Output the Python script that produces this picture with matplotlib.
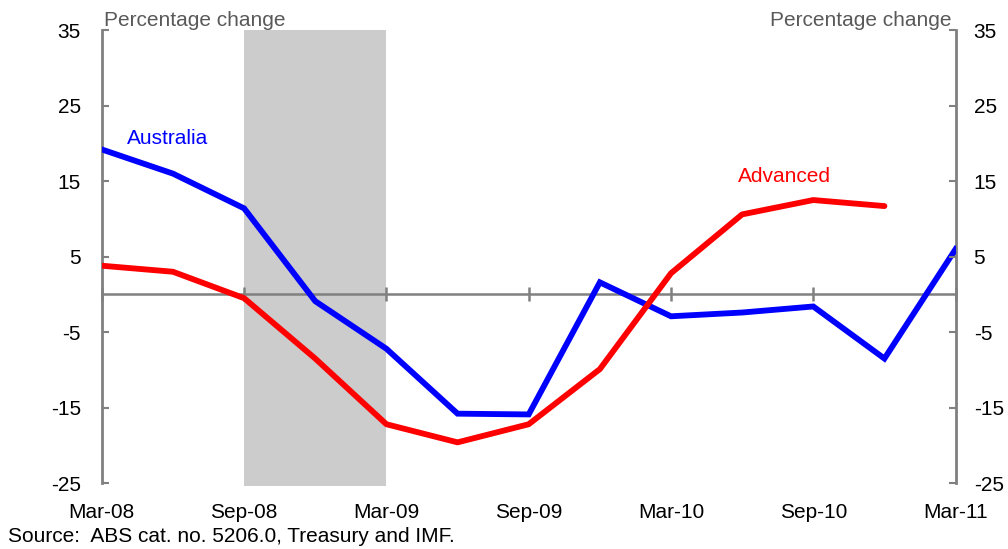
import numpy as np
from matplotlib import pyplot as plt

plt.rcParams['font.family'] = ['Liberation Sans', 'DejaVu Sans']
plt.rcParams['axes.unicode_minus'] = False

# quarterly, Mar-08 .. Mar-11
quarters = ['Mar-08', 'Jun-08', 'Sep-08', 'Dec-08', 'Mar-09', 'Jun-09', 'Sep-09',
            'Dec-09', 'Mar-10', 'Jun-10', 'Sep-10', 'Dec-10', 'Mar-11']
australia = [19.2, 16.0, 11.4, -0.9, -7.2, -15.8, -15.9, 1.6, -2.9, -2.4, -1.6, -8.5, 6.0]
advanced = [3.8, 3.0, -0.5, -8.5, -17.2, -19.6, -17.2, -9.9, 2.8, 10.6, 12.5, 11.7]
shade_start, shade_end = 'Sep-08', 'Mar-09'
y_ticks = [35, 25, 15, 5, -5, -15, -25]

axis_grey = '#808080'
fs = 15
x = np.arange(len(quarters))

fig = plt.figure(figsize=(10.08, 5.49), dpi=100)
ax = fig.add_axes([0.101, 0.12, 0.847, 0.825])

ax.axvspan(quarters.index(shade_start), quarters.index(shade_end),
           ymin=-0.006, ymax=1, color='#cccccc', lw=0, zorder=0, clip_on=False)

ax.plot(x, australia, color='#0000ff', lw=4.2, solid_joinstyle='miter', zorder=3)
ax.plot(x[:len(advanced)], advanced, color='#ff0000', lw=4.2, solid_capstyle='round', zorder=3)

ax.set_xlim(0, len(quarters) - 1)
ax.set_ylim(-25, 35)

# spines
ax.spines['top'].set_visible(False)
for side in ['left', 'right']:
    ax.spines[side].set_color(axis_grey)
    ax.spines[side].set_linewidth(2)
ax.spines['bottom'].set_position(('data', 0))
ax.spines['bottom'].set_color(axis_grey)
ax.spines['bottom'].set_linewidth(1.8)
ax.spines['bottom'].set_zorder(2)

ax.set_xticks(x[::2])
ax.tick_params(axis='x', direction='inout', length=10, width=1.8, color=axis_grey,
               labelbottom=False)

ax.set_yticks(y_ticks)
ax.tick_params(axis='y', direction='in', length=5, width=1.5, color=axis_grey,
               labelsize=fs, pad=15)

# right axis labels
ax2 = ax.twinx()
ax2.set_ylim(ax.get_ylim())
ax2.set_yticks(y_ticks)
ax2.tick_params(axis='y', direction='in', length=5, width=1.5, color=axis_grey,
                labelsize=fs, pad=13)
for side in ['left', 'right', 'top', 'bottom']:
    ax2.spines[side].set_visible(False)

# bottom labels
sec = ax.secondary_xaxis(0)
sec.set_xticks(x[::2])
sec.set_xticklabels(quarters[::2])
sec.tick_params(length=0, labelsize=fs, pad=14)
sec.spines['bottom'].set_visible(False)

ax.text(0.002, 1.0, 'Percentage change', transform=ax.transAxes, fontsize=fs,
        color='#595959', ha='left', va='bottom')
ax.text(0.995, 1.0, 'Percentage change', transform=ax.transAxes, fontsize=fs,
        color='#595959', ha='right', va='bottom')

ax.text(0.35, 20.7, 'Australia', color='#0000ff', fontsize=fs, ha='left', va='center')
ax.text(9.6, 15.6, 'Advanced', color='#ff0000', fontsize=fs, ha='center', va='center')

fig.text(0.008, 1 - 537 / 549, 'Source:  ABS cat. no. 5206.0, Treasury and IMF.', fontsize=fs,
         ha='left', va='center')

fig.savefig('out.png', dpi=100)
